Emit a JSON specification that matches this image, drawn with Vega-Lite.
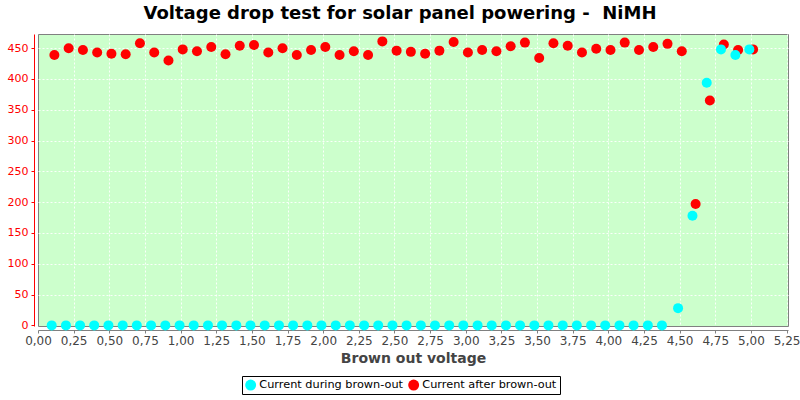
{
  "$schema": "https://vega.github.io/schema/vega-lite/v6.json",
  "autosize": {"type": "none"},
  "width": 750,
  "height": 292,
  "padding": {"left": 38, "top": 34, "right": 12, "bottom": 74},
  "background": "white",
  "title": {
    "text": "Voltage drop test for solar panel powering -\u00a0 NiMH",
    "font": "DejaVu Sans",
    "fontSize": 18,
    "fontWeight": "bold",
    "color": "black",
    "anchor": "middle",
    "dx": -13,
    "offset": 11
  },
  "config": {
    "view": {"fill": "#CCFFCC", "stroke": "#808080", "strokeWidth": 1},
    "font": "DejaVu Sans"
  },
  "data": {
    "values": [
      {"v": 0.115, "current": 439, "series": "Current after brown-out"},
      {"v": 0.215, "current": 450, "series": "Current after brown-out"},
      {"v": 0.315, "current": 447, "series": "Current after brown-out"},
      {"v": 0.415, "current": 443, "series": "Current after brown-out"},
      {"v": 0.515, "current": 441, "series": "Current after brown-out"},
      {"v": 0.615, "current": 440, "series": "Current after brown-out"},
      {"v": 0.715, "current": 458, "series": "Current after brown-out"},
      {"v": 0.815, "current": 443, "series": "Current after brown-out"},
      {"v": 0.915, "current": 430, "series": "Current after brown-out"},
      {"v": 1.015, "current": 448, "series": "Current after brown-out"},
      {"v": 1.115, "current": 445, "series": "Current after brown-out"},
      {"v": 1.215, "current": 452, "series": "Current after brown-out"},
      {"v": 1.315, "current": 440, "series": "Current after brown-out"},
      {"v": 1.415, "current": 454, "series": "Current after brown-out"},
      {"v": 1.515, "current": 455, "series": "Current after brown-out"},
      {"v": 1.615, "current": 443, "series": "Current after brown-out"},
      {"v": 1.715, "current": 450, "series": "Current after brown-out"},
      {"v": 1.815, "current": 439, "series": "Current after brown-out"},
      {"v": 1.915, "current": 447, "series": "Current after brown-out"},
      {"v": 2.015, "current": 452, "series": "Current after brown-out"},
      {"v": 2.115, "current": 439, "series": "Current after brown-out"},
      {"v": 2.215, "current": 445, "series": "Current after brown-out"},
      {"v": 2.315, "current": 439, "series": "Current after brown-out"},
      {"v": 2.415, "current": 461, "series": "Current after brown-out"},
      {"v": 2.515, "current": 446, "series": "Current after brown-out"},
      {"v": 2.615, "current": 444, "series": "Current after brown-out"},
      {"v": 2.715, "current": 441, "series": "Current after brown-out"},
      {"v": 2.815, "current": 446, "series": "Current after brown-out"},
      {"v": 2.915, "current": 460, "series": "Current after brown-out"},
      {"v": 3.015, "current": 443, "series": "Current after brown-out"},
      {"v": 3.115, "current": 447, "series": "Current after brown-out"},
      {"v": 3.215, "current": 445, "series": "Current after brown-out"},
      {"v": 3.315, "current": 453, "series": "Current after brown-out"},
      {"v": 3.415, "current": 459, "series": "Current after brown-out"},
      {"v": 3.515, "current": 434, "series": "Current after brown-out"},
      {"v": 3.615, "current": 458, "series": "Current after brown-out"},
      {"v": 3.715, "current": 454, "series": "Current after brown-out"},
      {"v": 3.815, "current": 443, "series": "Current after brown-out"},
      {"v": 3.915, "current": 449, "series": "Current after brown-out"},
      {"v": 4.015, "current": 447, "series": "Current after brown-out"},
      {"v": 4.115, "current": 459, "series": "Current after brown-out"},
      {"v": 4.215, "current": 447, "series": "Current after brown-out"},
      {"v": 4.315, "current": 452, "series": "Current after brown-out"},
      {"v": 4.415, "current": 457, "series": "Current after brown-out"},
      {"v": 4.515, "current": 445, "series": "Current after brown-out"},
      {"v": 4.612, "current": 197, "series": "Current after brown-out"},
      {"v": 4.712, "current": 365, "series": "Current after brown-out"},
      {"v": 4.81, "current": 456, "series": "Current after brown-out"},
      {"v": 4.91, "current": 447, "series": "Current after brown-out"},
      {"v": 5.015, "current": 448, "series": "Current after brown-out"},
      {"v": 0.096, "current": 0, "series": "Current during brown-out"},
      {"v": 0.196, "current": 0, "series": "Current during brown-out"},
      {"v": 0.295, "current": 0, "series": "Current during brown-out"},
      {"v": 0.394, "current": 0, "series": "Current during brown-out"},
      {"v": 0.494, "current": 0, "series": "Current during brown-out"},
      {"v": 0.594, "current": 0, "series": "Current during brown-out"},
      {"v": 0.693, "current": 0, "series": "Current during brown-out"},
      {"v": 0.793, "current": 0, "series": "Current during brown-out"},
      {"v": 0.893, "current": 0, "series": "Current during brown-out"},
      {"v": 0.993, "current": 0, "series": "Current during brown-out"},
      {"v": 1.092, "current": 0, "series": "Current during brown-out"},
      {"v": 1.192, "current": 0, "series": "Current during brown-out"},
      {"v": 1.291, "current": 0, "series": "Current during brown-out"},
      {"v": 1.391, "current": 0, "series": "Current during brown-out"},
      {"v": 1.49, "current": 0, "series": "Current during brown-out"},
      {"v": 1.59, "current": 0, "series": "Current during brown-out"},
      {"v": 1.69, "current": 0, "series": "Current during brown-out"},
      {"v": 1.789, "current": 0, "series": "Current during brown-out"},
      {"v": 1.889, "current": 0, "series": "Current during brown-out"},
      {"v": 1.988, "current": 0, "series": "Current during brown-out"},
      {"v": 2.088, "current": 0, "series": "Current during brown-out"},
      {"v": 2.187, "current": 0, "series": "Current during brown-out"},
      {"v": 2.287, "current": 0, "series": "Current during brown-out"},
      {"v": 2.386, "current": 0, "series": "Current during brown-out"},
      {"v": 2.486, "current": 0, "series": "Current during brown-out"},
      {"v": 2.585, "current": 0, "series": "Current during brown-out"},
      {"v": 2.685, "current": 0, "series": "Current during brown-out"},
      {"v": 2.784, "current": 0, "series": "Current during brown-out"},
      {"v": 2.884, "current": 0, "series": "Current during brown-out"},
      {"v": 2.983, "current": 0, "series": "Current during brown-out"},
      {"v": 3.083, "current": 0, "series": "Current during brown-out"},
      {"v": 3.182, "current": 0, "series": "Current during brown-out"},
      {"v": 3.282, "current": 0, "series": "Current during brown-out"},
      {"v": 3.381, "current": 0, "series": "Current during brown-out"},
      {"v": 3.481, "current": 0, "series": "Current during brown-out"},
      {"v": 3.58, "current": 0, "series": "Current during brown-out"},
      {"v": 3.68, "current": 0, "series": "Current during brown-out"},
      {"v": 3.779, "current": 0, "series": "Current during brown-out"},
      {"v": 3.879, "current": 0, "series": "Current during brown-out"},
      {"v": 3.978, "current": 0, "series": "Current during brown-out"},
      {"v": 4.078, "current": 0, "series": "Current during brown-out"},
      {"v": 4.177, "current": 0, "series": "Current during brown-out"},
      {"v": 4.277, "current": 0, "series": "Current during brown-out"},
      {"v": 4.376, "current": 0, "series": "Current during brown-out"},
      {"v": 4.489, "current": 28, "series": "Current during brown-out"},
      {"v": 4.59, "current": 178, "series": "Current during brown-out"},
      {"v": 4.69, "current": 394, "series": "Current during brown-out"},
      {"v": 4.79, "current": 448, "series": "Current during brown-out"},
      {"v": 4.891, "current": 439, "series": "Current during brown-out"},
      {"v": 4.989, "current": 448, "series": "Current during brown-out"}
    ]
  },
  "resolve": {"axis": {"x": "independent", "y": "independent"}},
  "layer": [
    {
      "mark": {"type": "circle", "size": 100, "opacity": 0},
      "encoding": {
        "x": {
          "field": "v",
          "type": "quantitative",
          "scale": {"domain": [0, 5.26], "nice": false, "zero": false},
          "axis": {
            "orient": "bottom",
            "title": null,
            "values": [0.25, 0.5, 0.75, 1, 1.25, 1.5, 1.75, 2, 2.25, 2.5, 2.75, 3, 3.25, 3.5, 3.75, 4, 4.25, 4.5, 4.75, 5, 5.25],
            "labels": false,
            "ticks": false,
            "domain": false,
            "grid": true,
            "gridColor": "white",
            "gridDash": [2, 2],
            "gridOpacity": 0.9
          }
        },
        "y": {
          "field": "current",
          "type": "quantitative",
          "scale": {"domain": [-1, 473], "nice": false, "zero": false},
          "axis": {
            "orient": "left",
            "title": null,
            "values": [50, 100, 150, 200, 250, 300, 350, 400, 450],
            "labels": false,
            "ticks": false,
            "domain": false,
            "grid": true,
            "gridColor": "white",
            "gridDash": [2, 2],
            "gridOpacity": 0.9
          }
        }
      }
    },
    {
      "mark": {"type": "circle", "size": 100, "opacity": 1},
      "encoding": {
        "x": {
          "field": "v",
          "type": "quantitative",
          "axis": {
            "orient": "bottom",
            "title": "Brown out voltage",
            "titleFont": "DejaVu Sans",
            "titleFontSize": 14,
            "titleFontWeight": "bold",
            "titleColor": "#444444",
            "titlePadding": 5,
            "values": [0, 0.25, 0.5, 0.75, 1, 1.25, 1.5, 1.75, 2, 2.25, 2.5, 2.75, 3, 3.25, 3.5, 3.75, 4, 4.25, 4.5, 4.75, 5, 5.25],
            "labelExpr": "replace(format(datum.value, '.2f'), '.', ',')",
            "labelFont": "DejaVu Sans",
            "labelFontSize": 12,
            "labelColor": "#444444",
            "labelPadding": 2,
            "labelFlush": false,
            "labelOverlap": false,
            "offset": 4,
            "domainColor": "#808080",
            "tickColor": "#808080",
            "tickSize": 3,
            "grid": false
          }
        },
        "y": {
          "field": "current",
          "type": "quantitative",
          "axis": {
            "orient": "left",
            "title": null,
            "values": [0, 50, 100, 150, 200, 250, 300, 350, 400, 450],
            "labelFont": "DejaVu Sans",
            "labelFontSize": 11,
            "labelColor": "red",
            "labelPadding": 3,
            "offset": 4,
            "domainColor": "red",
            "tickColor": "red",
            "tickSize": 3,
            "grid": false
          }
        },
        "color": {
          "field": "series",
          "type": "nominal",
          "scale": {
            "domain": ["Current during brown-out", "Current after brown-out"],
            "range": ["#00FFFF", "#FF0000"]
          },
          "legend": {
            "title": null,
            "orient": "none",
            "legendX": 204,
            "legendY": 342,
            "direction": "horizontal",
            "labelFont": "DejaVu Sans",
            "labelFontSize": 11.3,
            "labelColor": "black",
            "symbolType": "circle",
            "symbolSize": 120,
            "symbolStrokeWidth": 0,
            "symbolOpacity": 1,
            "columnPadding": 4,
            "labelOffset": 3,
            "padding": 3,
            "strokeColor": "black",
            "fillColor": "white"
          }
        }
      }
    }
  ]
}
